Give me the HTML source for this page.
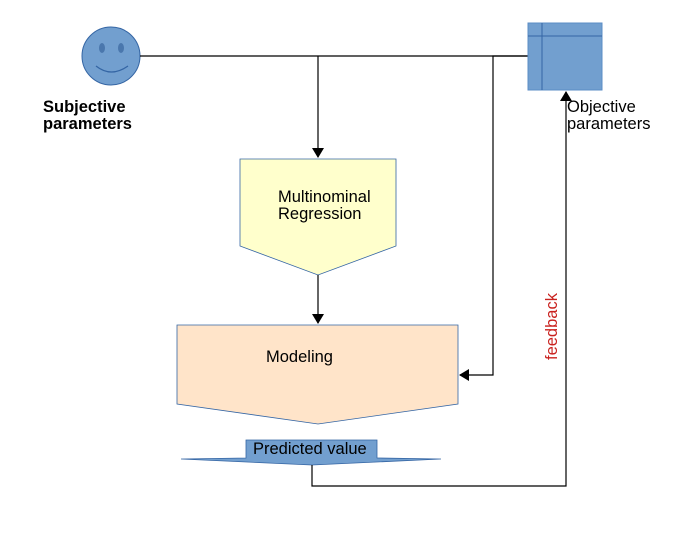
<!DOCTYPE html>
<html><head><style>body{margin:0;background:#fff}svg{display:block}text{font-family:"Liberation Sans",sans-serif}</style></head><body>
<svg width="697" height="540" viewBox="0 0 697 540" xmlns="http://www.w3.org/2000/svg">
<defs><marker id="a" markerWidth="10" markerHeight="16" refX="9" refY="8" orient="auto" markerUnits="userSpaceOnUse"><path d="M0,2 L10,8 L0,14 Z" fill="#000"/></marker></defs>
<!-- smiley -->
<circle cx="111" cy="56" r="29" fill="#729fcf" stroke="#3465a4" stroke-width="1"/>
<ellipse cx="102" cy="48" rx="3" ry="5" fill="#4a77ad"/>
<ellipse cx="121" cy="48" rx="3" ry="5" fill="#4a77ad"/>
<path d="M96,66 Q111,78 128,66" fill="none" stroke="#3465a4" stroke-width="1.2"/>
<text x="43" y="112" font-size="16.5" font-weight="bold">Subjective</text>
<text x="43" y="129" font-size="16.5" font-weight="bold">parameters</text>
<!-- lines -->
<line x1="140" y1="56" x2="528" y2="56" stroke="#000" stroke-width="1.2"/>
<line x1="318" y1="56" x2="318" y2="157" stroke="#000" stroke-width="1.2" marker-end="url(#a)"/>
<polyline points="528,56 493,56 493,375 460,375" fill="none" stroke="#000" stroke-width="1.2" marker-end="url(#a)"/>
<!-- table -->
<rect x="528" y="23" width="74" height="67" fill="#729fcf" stroke="#5b8cc6"/>
<line x1="528" y1="36" x2="602" y2="36" stroke="#3465a4"/>
<line x1="542" y1="23" x2="542" y2="90" stroke="#3465a4"/>
<text x="567" y="112" font-size="16.5">Objective</text>
<text x="567" y="129" font-size="16.5">parameters</text>
<!-- yellow -->
<path d="M240,159 L396,159 L396,246 L318,275 L240,246 Z" fill="#ffffcc" stroke="#3465a4" stroke-width="0.8"/>
<text x="278" y="202" font-size="16.5">Multinominal</text>
<text x="278" y="219" font-size="16.5">Regression</text>
<line x1="318" y1="275" x2="318" y2="323" stroke="#000" stroke-width="1.2" marker-end="url(#a)"/>
<!-- peach -->
<path d="M177,325 L458,325 L458,404 L318,424 L177,404 Z" fill="#ffe4c9" stroke="#3465a4" stroke-width="0.8"/>
<text x="266" y="362" font-size="16.5">Modeling</text>
<!-- predicted -->
<path d="M246,440 L377,440 L377,458 L441,459 L312,465 L181,459 L246,458 Z" fill="#729fcf" stroke="#3465a4" stroke-width="0.8"/>
<text x="253" y="454" font-size="16.5">Predicted value</text>
<!-- feedback -->
<polyline points="312,465 312,486 566,486 566,92" fill="none" stroke="#000" stroke-width="1.2" marker-end="url(#a)"/>
<text transform="translate(557,360) rotate(-90)" font-size="16.5" fill="#c9211e">feedback</text>
</svg>
</body></html>
